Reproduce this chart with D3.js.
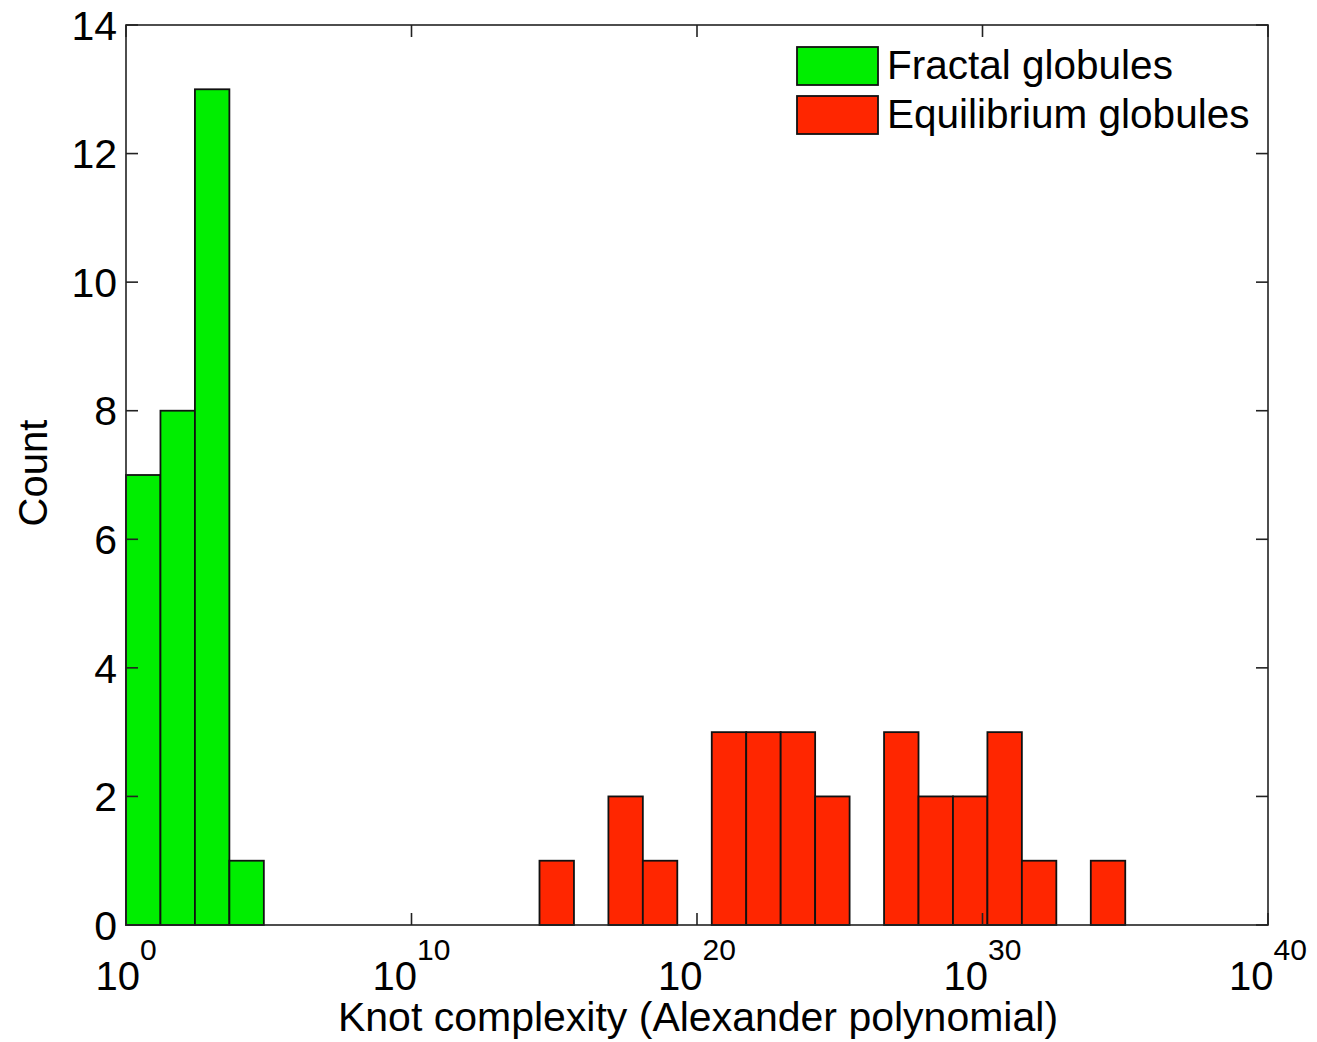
<!DOCTYPE html>
<html><head><meta charset="utf-8">
<script src="https://cdn.jsdelivr.net/npm/d3@7"></script>
<style>body{margin:0;background:#fff}svg{display:block}text{font-family:"Liberation Sans",Arial,sans-serif;fill:#000}</style>
</head><body><svg id="c" width="1317" height="1042"></svg>
<script>
// Bin edges given as base-10 exponents of knot complexity
const fractalLo = [0, 1.207, 2.414, 3.621];
const fractalHi = [1.207, 2.414, 3.621, 4.828];
const fractalCounts = [7, 8, 13, 1];
const equilLo = [14.483, 16.897, 18.103, 20.517, 21.724, 22.931, 24.138, 26.552, 27.759, 28.966, 30.172, 31.379, 33.793];
const equilHi = [15.690, 18.103, 19.310, 21.724, 22.931, 24.138, 25.345, 27.759, 28.966, 30.172, 31.379, 32.586, 35.000];
const equilCounts = [1, 2, 1, 3, 3, 3, 2, 3, 2, 2, 3, 1, 1];
const xTickExp = [0, 10, 20, 30, 40];
const yTicks = [0, 2, 4, 6, 8, 10, 12, 14];
const seriesNames = ["Fractal globules", "Equilibrium globules"];
const seriesColors = ["#00ee00", "#ff2600"];

const L = 126, R = 1268, T = 25, B = 925;
const svg = d3.select("#c");
const x = d3.scaleLog().domain([1, 1e40]).range([L, R]);
const y = d3.scaleLinear().domain([0, 14]).range([B, T]);
const p = e => x(Math.pow(10, e));

function bars(lo, hi, counts, color) {
  svg.append("g").selectAll("rect").data(counts).join("rect")
    .attr("x", (d, i) => p(lo[i]))
    .attr("width", (d, i) => p(hi[i]) - p(lo[i]))
    .attr("y", d => y(d))
    .attr("height", d => y(0) - y(d))
    .attr("fill", color).attr("stroke", "#111").attr("stroke-width", 1.8);
}
bars(fractalLo, fractalHi, fractalCounts, seriesColors[0]);
bars(equilLo, equilHi, equilCounts, seriesColors[1]);

// frame
svg.append("rect").attr("x", L).attr("y", T).attr("width", R - L).attr("height", B - T)
  .attr("fill", "none").attr("stroke", "#222").attr("stroke-width", 1.6);

const tk = 12;
const g = svg.append("g").attr("stroke", "#222").attr("stroke-width", 1.6);
yTicks.forEach(v => {
  g.append("line").attr("x1", L).attr("x2", L + tk).attr("y1", y(v)).attr("y2", y(v));
  g.append("line").attr("x1", R).attr("x2", R - tk).attr("y1", y(v)).attr("y2", y(v));
});
xTickExp.forEach(e => {
  g.append("line").attr("x1", p(e)).attr("x2", p(e)).attr("y1", B).attr("y2", B - tk);
  g.append("line").attr("x1", p(e)).attr("x2", p(e)).attr("y1", T).attr("y2", T + tk);
});

svg.append("g").selectAll("text").data(yTicks).join("text")
  .attr("x", L - 9).attr("y", d => y(d)).attr("dy", "0.36em")
  .attr("text-anchor", "end").attr("font-size", 41).text(d => d);

xTickExp.forEach(e => {
  const t = svg.append("text").attr("x", p(e)).attr("y", 990).attr("text-anchor", "middle").attr("font-size", 40);
  t.append("tspan").text("10");
  t.append("tspan").attr("font-size", 30).attr("dy", -30).text(e);
});

svg.append("text").attr("x", (L + R) / 2 + 1).attr("y", 1031).attr("text-anchor", "middle")
  .attr("font-size", 41).text("Knot complexity (Alexander polynomial)");
svg.append("text").attr("transform", "translate(47,473) rotate(-90)").attr("text-anchor", "middle")
  .attr("font-size", 40).text("Count");

// legend
seriesNames.forEach((n, i) => {
  const cy = 66 + i * 49;
  svg.append("rect").attr("x", 797).attr("y", cy - 19).attr("width", 81).attr("height", 38)
    .attr("fill", seriesColors[i]).attr("stroke", "#111").attr("stroke-width", 1.8);
  svg.append("text").attr("x", 887).attr("y", cy + 13).attr("font-size", 40.5).text(n);
});
</script></body></html>
